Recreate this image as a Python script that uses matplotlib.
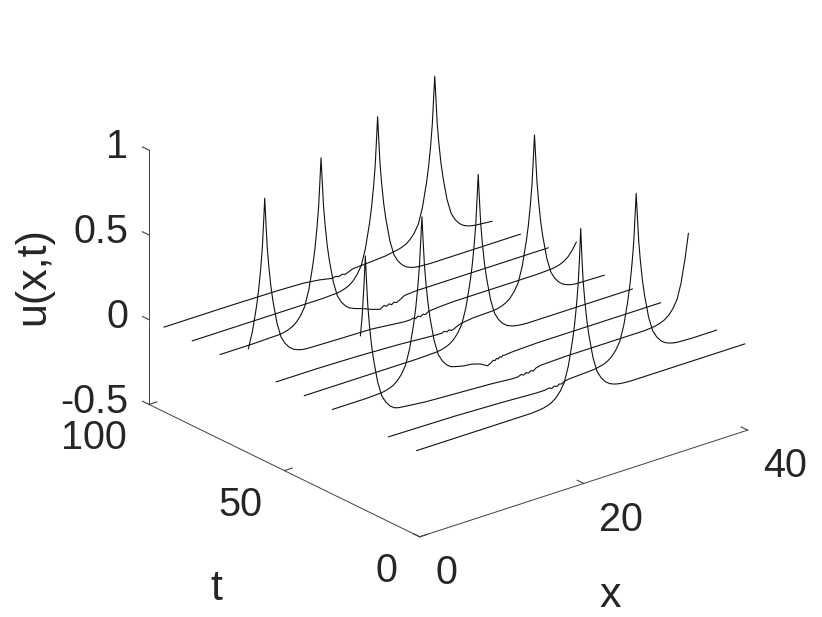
import matplotlib
matplotlib.use('Agg')
import matplotlib.pyplot as plt
from matplotlib.transforms import Affine2D

plt.rcParams['font.family'] = ['Liberation Sans', 'DejaVu Sans']
plt.rcParams['axes.unicode_minus'] = False

t_values = [1.1, 11.5, 21.9, 32.2, 42.6, 53.0, 63.3, 73.7, 84.0, 94.4]

x0 = [0,10,14,15,15.5,16,16.5,17,17.5,18,18.5,19,19.25,19.5,19.7,19.85,20,20.15,20.3,20.5,20.75,21,21.5,22,22.5,23,23.5,24,24.5,25,26,34,40]
u0 = [0,0,0,.004,.008,.015,.026,.045,.075,.12,.21,.35,.44,.56,.68,.82,.996,.82,.68,.56,.44,.35,.21,.12,.075,.045,.026,.015,.008,.004,0,0,0]
x1 = [0,8,14,18,19,19.6,19.9,20.2,20.5,20.8,21.1,21.4,22,24,25.2,26.2,26.7,27.2,27.7,28.2,28.7,29.2,29.45,29.7,29.9,30.05,30.2,30.35,30.5,30.7,30.95,31.2,31.7,32.2,32.7,33.2,33.7,34.2,34.7,35.2,37,40]
u1 = [0,-.005,-.015,-.025,-.025,-.02,-.028,-.018,-.026,-.016,-.02,-.01,-.005,0,.004,.015,.026,.045,.075,.12,.21,.35,.44,.56,.68,.82,.961,.82,.68,.56,.44,.35,.21,.12,.075,.045,.026,.015,.008,.004,0,0]
x2 = [0,.2,.45,.6,.75,.9,1.1,1.35,1.6,2.1,2.6,3.1,3.6,4.1,4.6,5.6,8,12,16,18.5,19.2,19.6,19.9,20.2,20.5,20.8,21.1,21.4,22,25,30,33,34.6,35.6,36.1,36.6,37.1,37.6,38.1,38.6,39.1,39.6,40]
u2 = [.515,.62,.82,.977,.82,.68,.56,.44,.35,.21,.12,.075,.045,.026,.018,.012,0,-.01,-.02,-.03,-.03,-.022,-.03,-.02,-.028,-.018,-.025,-.012,-.005,0,0,0,0,.004,.008,.015,.026,.045,.075,.12,.21,.35,.49]
x3 = [0,2,4,5.9,6.4,6.9,7.4,7.9,8.4,8.9,9.4,9.9,10.15,10.4,10.6,10.75,10.9,11.05,11.2,11.4,11.65,11.9,12.4,12.9,13.4,13.9,14.4,14.9,16,17,18,18.9,19.3,19.6,19.8,20,20.2,20.4,20.6,20.8,21,22,25,32,40]
u3 = [0,0,0,.004,.008,.015,.026,.045,.075,.12,.21,.35,.44,.56,.68,.82,.965,.82,.68,.56,.44,.35,.21,.12,.075,.045,.026,.018,.005,0,-.015,-.04,-.03,-.018,-.024,-.014,-.02,-.01,-.016,-.008,-.01,-.005,0,0,0]
x4 = [0,5,10,14,16.2,16.7,17.2,17.7,18.2,18.7,19.2,19.7,20.2,20.45,20.7,20.9,21.05,21.2,21.35,21.5,21.7,21.95,22.2,22.7,23.2,23.7,24.2,24.7,25.2,25.7,26.2,27.2,35,40]
u4 = [0,0,0,0,.004,.008,.015,.026,.045,.075,.12,.21,.35,.44,.56,.68,.82,.972,.82,.68,.56,.44,.35,.21,.12,.075,.045,.026,.015,.008,.004,0,0,0]
x5 = [0,5,10,15,18,19.5,20.2,20.5,20.8,21.1,21.4,21.7,22,22.5,24,26.5,27,27.5,28,28.5,29,29.5,30,30.5,30.75,31,31.2,31.35,31.5,31.65,31.8,32,32.25,32.5,33,33.5,34,34.5,35,35.5,36,36.5,40]
u5 = [0,0,-.005,-.015,-.025,-.03,-.03,-.024,-.032,-.025,-.033,-.028,-.02,-.01,0,.004,.008,.015,.026,.045,.075,.12,.21,.35,.44,.56,.68,.82,.961,.82,.68,.56,.44,.35,.21,.12,.075,.045,.026,.015,.008,.004,0]
x6 = [0,.5,1,1.25,1.5,1.7,1.85,2,2.15,2.3,2.5,2.75,3,3.5,4,4.5,5,5.5,6,6.5,7,10,15,18,19,19.8,20.1,20.4,20.7,21,21.3,21.6,22,23,25,30,35,37,37.5,38,38.5,39,39.5,40]
u6 = [.115,.21,.35,.44,.56,.68,.82,.972,.82,.68,.56,.44,.35,.21,.12,.075,.045,.026,.015,.008,.004,0,-.005,-.02,-.025,-.025,-.02,-.028,-.018,-.026,-.016,-.022,-.01,-.005,0,0,0,.004,.008,.015,.026,.045,.075,.115]
x7 = [0,4,7.3,7.8,8.3,8.8,9.3,9.8,10.3,10.8,11.3,11.55,11.8,12,12.15,12.3,12.45,12.6,12.8,13.05,13.3,13.8,14.3,14.8,15.3,15.8,16.3,17.5,18.5,19.5,20,20.3,20.6,20.9,21.2,21.5,21.8,22.5,24,28,34,40]
u7 = [0,0,.004,.008,.015,.026,.045,.075,.12,.21,.35,.44,.56,.68,.82,.967,.82,.68,.56,.44,.35,.21,.12,.075,.045,.026,.015,-.005,-.025,-.04,-.025,-.035,-.025,-.035,-.025,-.032,-.025,-.005,0,0,0,0]
x8 = [0,6,12,16,17.6,18.1,18.6,19.1,19.6,20.1,20.6,21.1,21.6,21.85,22.1,22.3,22.45,22.6,22.75,22.9,23.1,23.35,23.6,24.1,24.6,25.1,25.6,26.1,26.6,27.1,27.6,29,40]
u8 = [0,0,0,0,.004,.008,.015,.026,.045,.075,.12,.21,.35,.44,.56,.68,.82,.967,.82,.68,.56,.44,.35,.21,.12,.075,.045,.026,.015,.008,.004,0,0]
x9 = [0,8,14,17,19,20,20.5,20.9,21.3,21.7,22.1,22.5,23,25,27,28,28.5,29,29.5,30,30.5,31,31.5,32,32.25,32.5,32.7,32.85,33,33.15,33.3,33.5,33.75,34,34.5,35,35.5,36,36.5,37,37.5,38,40]
u9 = [0,0,-.003,-.008,-.02,-.03,-.035,-.03,-.037,-.03,-.036,-.028,-.018,-.012,-.005,.004,.008,.015,.026,.045,.075,.12,.21,.35,.44,.56,.68,.82,.961,.82,.68,.56,.44,.35,.21,.12,.075,.045,.026,.015,.008,.004,-.005]

xs = [x0, x1, x2, x3, x4, x5, x6, x7, x8, x9]
us = [u0, u1, u2, u3, u4, u5, u6, u7, u8, u9]

x_ticks = [0, 20, 40]
t_ticks = [0, 50, 100]
u_ticks = [-0.5, 0, 0.5, 1]
u_tick_labels = ['-0.5', '0', '0.5', '1']

FS = 28.5
FS_LABEL = 31
TXT = '#262626'
AX = '#404040'
W, H = 822, 617

fig = plt.figure(figsize=(W / 100, H / 100), dpi=100)
ax = fig.add_axes([29 / W, 10 / H, 1, 1], projection='3d', proj_type='ortho')
ax.view_init(elev=23.5, azim=-129.2)
ax.set_box_aspect((1, 1.012, 0.655), zoom=1.043)

for xv, uv, tv in zip(xs, us, t_values):
    ax.plot(xv, [tv] * len(xv), uv, color='#111111', lw=0.8)

ax.set_xlim(0, 40, view_margin=0)
ax.set_ylim(0, 100, view_margin=0)
ax.set_zlim(-0.5, 1, view_margin=0)
ax.set_xticks(x_ticks)
ax.set_yticks(t_ticks)
ax.set_zticks(u_ticks)
ax.set_zticklabels(u_tick_labels)
ax.grid(False)
for axis in (ax.xaxis, ax.yaxis, ax.zaxis):
    axis.set_pane_color((1, 1, 1, 0))
    axis.pane.set_edgecolor((1, 1, 1, 0))
    axis.line.set_color(AX)
    axis.line.set_linewidth(0.7)
    axis.set_tick_params(labelsize=FS, labelcolor=TXT, color=AX, width=0.7)
    axis._axinfo['tick']['inward_factor'] = 0
    axis._axinfo['tick']['outward_factor'] = 0.3

# u ticks run along the t direction, as in the reference
ax.zaxis._get_tickdir = lambda pos: 1
ax.zaxis.set_tick_params(pad=0)


def nudge_labels(axis, dx, dy):
    """Shift an axis' tick labels by a few pixels at draw time."""
    original = axis.get_major_ticks

    def patched(numticks=None):
        ticks = original(numticks)
        for tick in ticks:
            tick.label1.set_transform(ax.transData + Affine2D().translate(dx, dy))
        return ticks

    axis.get_major_ticks = patched


nudge_labels(ax.xaxis, 2, 2)
nudge_labels(ax.yaxis, -6, 3)
nudge_labels(ax.zaxis, 0, 21)

for lab in ax.get_xticklabels():
    lab.set_ha('left')
for lab in ax.get_yticklabels():
    lab.set_ha('right')
for lab in ax.get_zticklabels():
    lab.set_ha('right')

fig.text(610 / W, 1 - 596 / H, 'x', fontsize=FS_LABEL, color=TXT, ha='center', va='center')
fig.text(216 / W, 1 - 589 / H, 't', fontsize=FS_LABEL, color=TXT, ha='center', va='center')
fig.text(33 / W, 1 - 276 / H, 'u(x,t)', fontsize=FS_LABEL, color=TXT, rotation=90, ha='center', va='center')

fig.savefig('out.png', dpi=100)
